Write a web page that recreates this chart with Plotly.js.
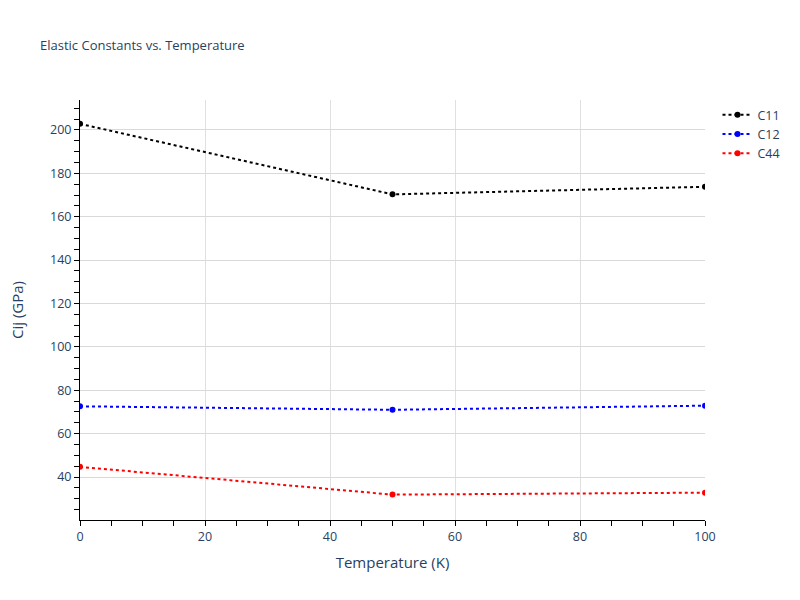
<!DOCTYPE html>
<html>
<head>
<meta charset="utf-8">
<script src="https://cdn.plot.ly/plotly-3.0.1.min.js"></script>
<style>html,body{margin:0;padding:0;background:#fff;}</style>
</head>
<body>
<div id="chart" style="width:800px;height:600px;"></div>
<script>
const temperatures = [0, 50, 100];
const c11 = [202.8, 170.3, 173.8];
const c12 = [72.6, 71.0, 72.9];
const c44 = [44.7, 31.9, 32.8];
const seriesNames = ["C11", "C12", "C44"];
const seriesColors = ["black", "blue", "red"];
const seriesValues = [c11, c12, c44];

const traces = seriesValues.map((vals, i) => ({
  x: temperatures,
  y: vals,
  name: seriesNames[i],
  type: "scatter",
  mode: "lines+markers",
  line: {color: seriesColors[i], dash: "dot", width: 2},
  marker: {color: seriesColors[i], size: 6}
}));

const axisFont = {family: "Open Sans, sans-serif", size: 15, color: "#2a3f5f"};
const layout = {
  width: 800, height: 600,
  margin: {l: 80, r: 95, t: 100, b: 80},
  paper_bgcolor: "white",
  plot_bgcolor: "white",
  font: {family: "Open Sans, sans-serif", size: 12.5, color: "#2a3f5f"},
  title: {text: "Elastic Constants vs. Temperature", x: 0.05, xanchor: "left", y: 0.925, yanchor: "middle", font: {size: 13, color: "#2a3f5f"}},
  xaxis: {
    title: {text: "Temperature (K)", font: axisFont, standoff: 13},
    range: [0, 100],
    dtick: 20,
    showline: true, linecolor: "black", linewidth: 1,
    ticks: "outside", ticklen: 5, tickcolor: "black",
    minor: {dtick: 5, ticks: "outside", ticklen: 5, tickcolor: "black", showgrid: false},
    showgrid: true, gridcolor: "#e0e0e0", gridwidth: 1,
    zeroline: false
  },
  yaxis: {
    title: {text: "Cij (GPa)", font: axisFont, standoff: 22},
    range: [20.2, 213.8],
    dtick: 20,
    showline: true, linecolor: "black", linewidth: 1,
    ticks: "outside", ticklen: 5, tickcolor: "black",
    minor: {dtick: 5, ticks: "outside", ticklen: 5, tickcolor: "black", showgrid: false},
    showgrid: true, gridcolor: "#d9d9d9", gridwidth: 1,
    zeroline: false
  },
  legend: {x: 1.02, y: 1, xanchor: "left", yanchor: "top", font: {size: 12.5}},
  showlegend: true
};

Plotly.newPlot("chart", traces, layout, {displayModeBar: false});
</script>
</body>
</html>
